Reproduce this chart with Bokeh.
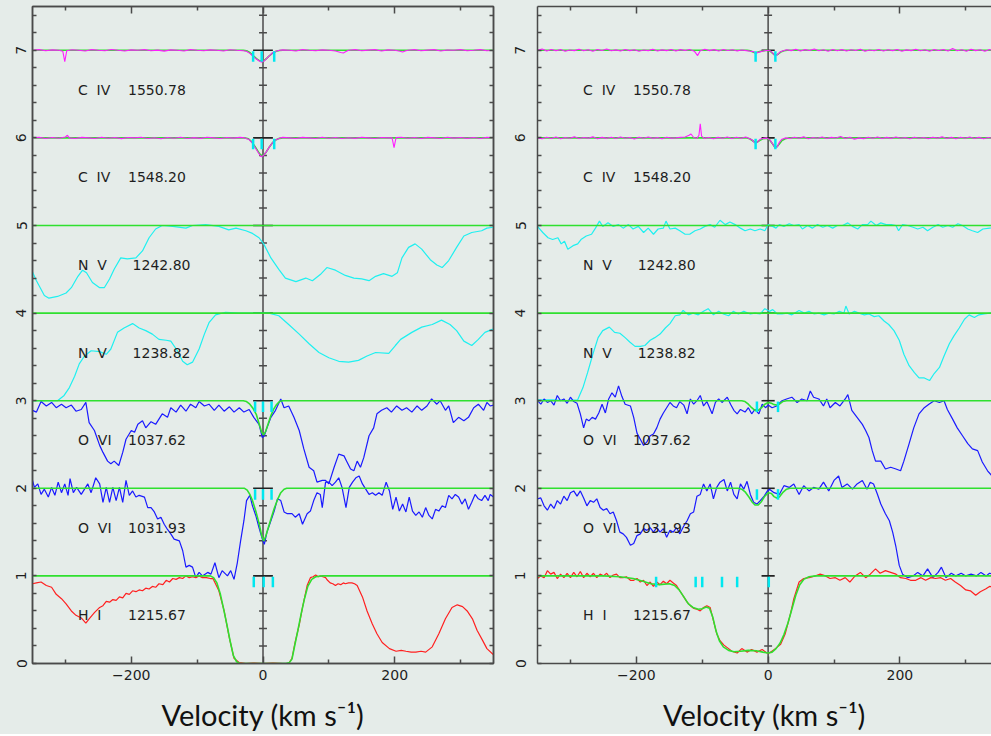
from bokeh.plotting import figure
from bokeh.models import LinearAxis, FixedTicker, Range1d
from bokeh.layouts import row
from bokeh.embed import file_html
from bokeh.resources import INLINE
from bokeh.core.properties import value

# ---------------- DATA (velocity km/s, normalised flux) ----------------
LEVELS = {"HI": 1, "OVI1031": 2, "OVI1037": 3, "NV1238": 4, "NV1242": 5, "CIV1548": 6, "CIV1550": 7}
ION_NAMES = {"HI": "H\u00a0\u00a0I", "OVI1031": "O\u00a0\u00a0VI", "OVI1037": "O\u00a0\u00a0VI",
             "NV1238": "N\u00a0\u00a0V", "NV1242": "N\u00a0\u00a0V", "CIV1548": "C\u00a0\u00a0IV",
             "CIV1550": "C\u00a0\u00a0IV"}
WAVELENGTHS = {"HI": "1215.67", "OVI1031": "1031.93", "OVI1037": "1037.62", "NV1238": "1238.82",
               "NV1242": "1242.80", "CIV1548": "1548.20", "CIV1550": "1550.78"}
X_TICKS = [-200, 0, 200]
X_MINOR = [-300, -100, 100, 300]
X_TICK_LABELS = {-200: "\u2212200", 0: "0", 200: "200"}
Y_TICKS = [0, 1, 2, 3, 4, 5, 6, 7]

# ---- left panel ----
L_CIV1550 = [(-350,1.0),(-340,1.008),(-330,0.995),(-320,1.005),(-310,1.0),(-304,0.99),(-301,0.87),(-298,0.995),(-290,1.006),(-280,1.0),(-270,0.992),(-260,1.008),(-250,1.0),(-240,0.994),(-230,1.009),(-220,1.0),(-210,0.992),(-200,1.005),(-190,1.0),(-180,1.008),(-170,0.994),(-160,1.002),(-150,0.991),(-140,1.005),(-130,1.0),(-120,0.992),(-110,1.008),(-100,1.0),(-90,0.995),(-80,1.005),(-70,1.0),(-60,0.992),(-50,1.006),(-40,1.0),(-30,0.995),(-25,0.99),(-20,0.965),(-15,0.93),(-10,0.9),(-5,0.875),(-2,0.865),(2,0.88),(6,0.91),(10,0.94),(15,0.975),(20,0.99),(25,1.0),(30,1.005),(40,1.0),(50,0.992),(60,1.008),(70,1.0),(80,0.995),(90,1.005),(100,1.0),(110,0.992),(118,0.975),(122,0.97),(126,0.985),(130,1.0),(140,1.008),(150,0.995),(160,1.002),(170,1.008),(180,0.992),(190,1.005),(200,1.0),(208,0.99),(212,0.98),(216,0.992),(220,1.0),(230,1.008),(240,0.995),(250,1.002),(260,1.008),(270,0.992),(280,1.004),(290,1.0),(300,1.008),(310,0.995),(320,1.0),(330,1.008),(340,0.995),(350,1.0)]
L_CIV1548 = [(-350,1.0),(-340,1.006),(-330,0.994),(-320,1.004),(-310,0.996),(-300,1.01),(-297,1.03),(-294,1.0),(-285,0.994),(-275,1.006),(-265,1.0),(-255,0.993),(-245,1.007),(-235,0.996),(-225,1.004),(-215,0.992),(-205,1.005),(-195,1.0),(-185,1.008),(-175,0.994),(-165,1.002),(-155,0.99),(-145,1.004),(-135,0.996),(-125,1.007),(-115,0.993),(-105,1.003),(-95,0.995),(-85,1.007),(-75,1.0),(-65,0.993),(-55,1.005),(-45,0.997),(-35,1.006),(-28,1.0),(-22,0.985),(-17,0.95),(-12,0.89),(-7,0.83),(-3,0.785),(1,0.8),(5,0.84),(10,0.9),(15,0.95),(20,0.98),(25,0.995),(30,1.006),(40,1.0),(50,0.994),(60,1.006),(70,1.0),(80,0.993),(90,1.007),(100,0.996),(110,1.004),(120,0.993),(130,1.002),(140,0.995),(150,1.007),(160,1.0),(170,0.993),(180,1.004),(190,1.0),(196,1.0),(199,0.89),(202,1.003),(210,1.008),(220,0.996),(230,1.004),(240,0.993),(250,1.006),(260,1.0),(270,0.994),(280,1.008),(290,0.997),(300,1.005),(310,0.995),(320,1.004),(330,0.993),(340,1.006),(350,1.0)]
L_NV1242 = [(-350,0.47),(-344,0.37),(-332,0.20),(-325,0.17),(-312,0.19),(-299,0.23),(-291,0.29),(-281,0.42),(-274,0.49),(-268,0.46),(-259,0.35),(-248,0.29),(-241,0.29),(-233,0.39),(-226,0.50),(-216,0.63),(-206,0.62),(-193,0.63),(-183,0.71),(-173,0.86),(-163,0.96),(-153,1.0),(-137,0.99),(-117,0.97),(-107,1.0),(-87,1.01),(-67,0.99),(-52,0.95),(-41,0.97),(-26,0.94),(-16,0.91),(-6,0.86),(1,0.79),(12,0.63),(24,0.50),(34,0.40),(50,0.36),(65,0.40),(75,0.37),(87,0.44),(97,0.52),(110,0.49),(125,0.43),(138,0.40),(150,0.39),(161,0.37),(171,0.42),(183,0.45),(196,0.42),(204,0.46),(211,0.63),(221,0.75),(231,0.79),(241,0.73),(254,0.61),(264,0.55),(272,0.52),(282,0.60),(294,0.75),(305,0.88),(317,0.92),(332,0.94),(340,0.97),(350,0.98)]
L_NV1238 = [(-350,0.0),(-334,0.0),(-312,0.0),(-302,0.06),(-294,0.15),(-286,0.28),(-279,0.42),(-271,0.51),(-261,0.57),(-248,0.56),(-238,0.53),(-231,0.59),(-221,0.78),(-211,0.83),(-198,0.88),(-188,0.83),(-178,0.80),(-168,0.76),(-158,0.70),(-147,0.69),(-140,0.68),(-130,0.57),(-122,0.45),(-115,0.41),(-107,0.44),(-97,0.59),(-89,0.76),(-82,0.89),(-72,0.98),(-57,1.01),(-36,1.0),(9,1.0),(24,0.97),(39,0.87),(55,0.76),(70,0.65),(85,0.55),(100,0.49),(115,0.45),(130,0.44),(145,0.46),(158,0.51),(171,0.55),(191,0.54),(201,0.63),(209,0.70),(226,0.78),(241,0.84),(257,0.87),(271,0.92),(284,0.87),(294,0.80),(305,0.68),(317,0.63),(327,0.70),(337,0.78),(350,0.82)]
L_OVI1037 = [(-350,0.89),(-344,0.87),(-337,0.99),(-329,0.94),(-321,0.98),(-314,0.92),(-306,0.96),(-299,0.92),(-291,0.95),(-284,0.88),(-276,0.90),(-269,0.98),(-264,0.75),(-256,0.66),(-248,0.49),(-243,0.41),(-236,0.31),(-231,0.28),(-226,0.31),(-219,0.26),(-213,0.41),(-208,0.56),(-200,0.66),(-195,0.64),(-190,0.73),(-183,0.77),(-178,0.69),(-170,0.76),(-163,0.73),(-153,0.85),(-145,0.81),(-140,0.92),(-132,0.87),(-125,0.95),(-117,0.88),(-110,0.96),(-102,0.92),(-97,0.99),(-89,0.94),(-82,0.96),(-74,0.89),(-67,0.95),(-59,0.88),(-51,0.93),(-44,0.87),(-36,0.92),(-29,0.87),(-21,0.90),(-14,0.81),(-6,0.73),(-1,0.58),(2,0.60),(6,0.69),(12,0.81),(19,0.89),(27,1.02),(32,0.92),(39,0.94),(47,0.81),(55,0.66),(62,0.45),(70,0.24),(77,0.20),(82,0.07),(90,0.09),(95,0.09),(100,0.05),(108,0.24),(115,0.39),(123,0.37),(127,0.31),(133,0.22),(138,0.20),(143,0.31),(148,0.24),(153,0.35),(161,0.60),(168,0.69),(173,0.85),(180,0.89),(188,0.92),(195,0.87),(203,0.94),(211,0.89),(218,0.92),(226,0.87),(234,0.94),(241,0.89),(249,0.94),(256,1.02),(264,0.96),(269,1.0),(277,0.89),(282,0.94),(289,0.75),(297,0.81),(305,0.77),(312,0.81),(320,0.92),(327,0.96),(335,0.89),(340,0.98),(345,0.94),(350,0.95)]
L_OVI1031 = [(-350,1.09),(-347,1.01),(-342,1.05),(-337,0.93),(-332,0.99),(-326,0.90),(-321,1.01),(-316,0.92),(-311,1.07),(-306,0.95),(-301,1.05),(-296,0.92),(-293,1.11),(-288,0.95),(-283,1.01),(-276,0.93),(-271,0.99),(-266,1.05),(-261,0.95),(-254,1.12),(-248,1.05),(-243,0.84),(-238,1.01),(-233,0.84),(-228,1.01),(-223,0.86),(-218,1.01),(-213,0.84),(-208,1.09),(-203,0.92),(-198,0.97),(-193,0.90),(-188,0.92),(-180,0.90),(-175,0.78),(-170,0.78),(-165,0.73),(-160,0.65),(-155,0.67),(-150,0.59),(-145,0.53),(-140,0.48),(-135,0.42),(-127,0.40),(-122,0.29),(-117,0.10),(-112,0.12),(-107,0.10),(-102,-0.02),(-97,0.04),(-92,0.0),(-84,0.04),(-79,0.02),(-73,0.15),(-67,-0.02),(-62,0.06),(-54,0.0),(-49,0.06),(-44,-0.04),(-39,0.15),(-34,0.40),(-29,0.63),(-25,0.86),(-20,0.92),(-16,0.80),(-11,0.69),(-6,0.55),(-1,0.42),(2,0.36),(6,0.50),(12,0.63),(17,0.74),(22,0.88),(27,0.86),(32,0.73),(37,0.71),(44,0.71),(49,0.67),(55,0.71),(60,0.59),(67,0.71),(72,0.74),(77,0.86),(82,0.95),(87,0.93),(90,0.78),(95,1.07),(100,1.07),(105,1.03),(110,1.07),(115,1.12),(120,1.01),(126,0.78),(131,1.01),(136,1.07),(141,1.12),(146,1.14),(151,1.05),(156,0.99),(161,0.93),(166,0.95),(171,0.92),(176,0.95),(181,0.92),(187,1.07),(192,0.97),(197,0.76),(202,0.90),(207,0.74),(212,0.82),(217,0.73),(222,0.90),(227,0.74),(232,0.69),(237,0.73),(242,0.67),(247,0.78),(252,0.69),(257,0.65),(262,0.76),(267,0.74),(272,0.80),(277,0.78),(282,0.92),(287,0.88),(292,0.93),(297,0.90),(302,0.82),(307,0.88),(312,0.76),(317,0.84),(322,0.93),(327,0.88),(332,0.86),(337,0.92),(342,0.86),(345,0.93),(350,0.90)]
L_HI = [(-350,0.91),(-344,0.92),(-337,0.93),(-329,0.89),(-321,0.87),(-314,0.79),(-306,0.74),(-299,0.68),(-291,0.60),(-284,0.55),(-276,0.52),(-269,0.46),(-264,0.51),(-256,0.58),(-248,0.64),(-243,0.66),(-238,0.71),(-233,0.70),(-228,0.73),(-223,0.72),(-218,0.76),(-213,0.75),(-208,0.80),(-203,0.79),(-198,0.83),(-193,0.82),(-188,0.84),(-183,0.83),(-178,0.86),(-173,0.85),(-168,0.88),(-163,0.87),(-158,0.91),(-152,0.90),(-147,0.95),(-142,0.93),(-137,0.97),(-132,0.96),(-127,0.98),(-122,0.97),(-117,1.0),(-112,0.98),(-107,0.99),(-102,0.98),(-97,1.0),(-92,0.98),(-86,0.98),(-80,0.97),(-76,0.97),(-67,0.83),(-59,0.60),(-51,0.29),(-44,0.06),(-36,0.01),(-26,0.0),(-15,0.005),(0,0.0),(15,0.005),(30,0.0),(39,0.0),(44,0.06),(49,0.25),(55,0.44),(60,0.64),(67,0.89),(72,0.98),(76,0.99),(80,1.01),(84,0.99),(87,1.0),(91,0.99),(95,0.98),(98,0.95),(102,0.92),(106,0.91),(110,0.89),(114,0.91),(118,0.90),(122,0.92),(125,0.91),(130,0.92),(135,0.92),(139,0.91),(143,0.89),(151,0.76),(158,0.60),(166,0.45),(173,0.34),(181,0.24),(192,0.17),(202,0.14),(210,0.15),(217,0.14),(225,0.13),(232,0.13),(240,0.14),(247,0.13),(257,0.19),(267,0.34),(277,0.51),(287,0.64),(295,0.67),(303,0.65),(310,0.60),(318,0.51),(325,0.38),(333,0.27),(340,0.17),(350,0.10)]

L_MODELS = {
    "CIV1550": [(-350,1),(-30,1),(-25,0.995),(-20,0.975),(-15,0.94),(-10,0.905),(-5,0.88),(-2,0.875),(2,0.885),(6,0.91),(10,0.94),(15,0.97),(20,0.99),(25,0.998),(30,1),(350,1)],
    "CIV1548": [(-350,1),(-28,1),(-22,0.99),(-17,0.955),(-12,0.9),(-7,0.84),(-3,0.8),(1,0.805),(5,0.84),(10,0.9),(15,0.95),(20,0.98),(25,0.995),(30,1),(350,1)],
    "NV1242": [(-350,1),(350,1)],
    "NV1238": [(-350,1),(350,1)],
    "OVI1037": [(-350,1),(-30,1),(-25,0.99),(-20,0.96),(-15,0.91),(-10,0.84),(-6,0.74),(-2,0.64),(1,0.61),(4,0.65),(8,0.74),(12,0.83),(16,0.9),(20,0.95),(25,0.99),(30,1),(350,1)],
    "OVI1031": [(-350,1),(-28,1),(-24,0.98),(-20,0.93),(-16,0.86),(-11,0.74),(-6,0.6),(-2,0.46),(1,0.4),(4,0.45),(8,0.55),(12,0.65),(17,0.77),(22,0.87),(27,0.95),(32,0.99),(36,1),(350,1)],
    "HI": [(-350,1),(-80,1),(-75,0.98),(-70,0.92),(-65,0.8),(-60,0.63),(-55,0.45),(-50,0.26),(-45,0.09),(-40,0.02),(-35,0.0),(35,0.0),(40,0.01),(44,0.05),(48,0.2),(53,0.38),(58,0.57),(63,0.74),(68,0.88),(74,0.96),(80,0.99),(90,1),(350,1)],
}
L_COMPONENTS = {"HI": [-14, 1, 15], "OVI1031": [-12, 0, 13], "OVI1037": [-12, 0, 13],
                "CIV1548": [-15, -2, 17], "CIV1550": [-15, -2, 17]}

# ---- right panel ----
R_CIV1550 = [(-350,1.0),(-343,1.015),(-336,0.992),(-329,1.01),(-322,0.995),(-315,1.008),(-308,0.99),(-301,1.004),(-294,0.996),(-287,1.012),(-280,0.994),(-273,1.006),(-266,0.99),(-259,1.008),(-252,0.997),(-245,1.015),(-238,0.995),(-231,1.005),(-224,0.992),(-217,1.01),(-210,0.996),(-203,1.006),(-196,0.99),(-189,1.003),(-182,0.996),(-175,1.012),(-168,0.993),(-161,1.005),(-154,0.996),(-147,1.01),(-140,0.992),(-133,1.008),(-126,0.997),(-119,1.01),(-112,0.99),(-107,0.94),(-103,0.995),(-96,1.012),(-89,0.996),(-82,1.008),(-75,0.993),(-68,1.01),(-61,0.997),(-54,1.006),(-47,0.993),(-40,1.004),(-33,0.996),(-27,0.99),(-22,0.985),(-19,0.965),(-16,0.975),(-11,0.985),(-6,0.995),(0,1.0),(4,0.99),(8,0.96),(11,0.935),(14,0.95),(18,0.98),(23,0.995),(28,1.006),(35,0.996),(42,1.012),(49,0.993),(56,1.008),(63,0.997),(70,1.015),(77,0.994),(84,1.006),(91,0.99),(98,1.01),(105,0.995),(112,1.008),(119,0.992),(126,1.006),(133,0.997),(140,1.012),(147,0.99),(154,1.004),(161,0.995),(168,1.01),(175,0.993),(182,1.007),(189,0.996),(196,1.01),(203,0.99),(210,1.005),(217,0.996),(224,1.012),(231,0.994),(238,1.006),(245,0.99),(252,1.008),(259,0.997),(266,1.01),(273,0.993),(280,1.02),(287,0.994),(294,1.006),(301,0.99),(308,1.012),(315,0.996),(322,1.006),(329,0.99),(336,1.008),(343,0.995),(350,1.0)]
R_CIV1548 = [(-350,1.0),(-343,0.99),(-336,1.008),(-329,0.994),(-322,1.01),(-315,0.99),(-308,1.004),(-301,0.996),(-294,1.012),(-287,0.993),(-280,1.005),(-273,0.997),(-266,1.012),(-259,0.99),(-252,1.006),(-245,0.995),(-238,1.008),(-231,0.993),(-224,1.01),(-217,0.996),(-210,1.004),(-203,0.988),(-196,1.008),(-189,0.996),(-182,1.01),(-175,0.995),(-168,1.005),(-161,0.99),(-154,1.008),(-147,0.997),(-140,1.0),(-133,1.006),(-126,1.01),(-120,1.03),(-117,1.045),(-113,1.005),(-108,0.995),(-105,1.03),(-103,1.16),(-101,1.02),(-97,0.995),(-90,1.004),(-83,0.99),(-76,1.006),(-69,0.996),(-62,1.01),(-55,0.993),(-48,1.008),(-41,0.996),(-34,1.01),(-28,0.99),(-24,0.975),(-21,0.95),(-19,0.935),(-16,0.955),(-12,0.985),(-7,0.995),(-2,1.0),(3,0.975),(7,0.93),(11,0.885),(14,0.9),(17,0.95),(21,0.985),(26,1.0),(33,0.993),(40,1.008),(47,0.996),(54,1.012),(61,0.99),(68,1.005),(75,0.996),(82,1.01),(89,0.993),(96,1.006),(103,0.998),(110,1.015),(117,0.994),(124,1.008),(131,0.985),(138,1.0),(145,0.992),(152,1.008),(159,0.996),(166,1.01),(173,0.993),(180,1.006),(187,0.995),(194,1.01),(201,0.996),(208,1.005),(215,0.99),(222,1.008),(229,0.996),(236,1.004),(243,0.992),(250,1.008),(257,0.997),(264,1.012),(271,0.994),(278,1.006),(285,0.99),(292,1.008),(299,0.996),(306,1.01),(313,0.993),(320,1.006),(327,0.99),(334,1.005),(341,0.996),(350,1.0)]
R_NV1242 = [(-350,0.99),(-342,0.92),(-334,0.86),(-327,0.84),(-319,0.86),(-314,0.79),(-309,0.82),(-304,0.73),(-296,0.77),(-289,0.79),(-284,0.84),(-276,0.88),(-268,0.90),(-262,0.97),(-256,1.05),(-251,0.99),(-243,1.03),(-235,0.99),(-227,1.01),(-220,0.97),(-212,1.01),(-205,0.96),(-197,0.99),(-189,0.92),(-182,0.97),(-174,0.90),(-167,0.96),(-159,0.97),(-155,1.05),(-149,0.96),(-141,0.97),(-134,0.94),(-126,0.90),(-119,0.90),(-111,0.94),(-103,0.96),(-96,0.99),(-88,1.01),(-81,0.98),(-73,1.06),(-65,1.01),(-58,1.04),(-50,1.01),(-42,0.97),(-35,0.94),(-27,0.96),(-20,0.94),(-12,0.96),(-5,0.94),(0,1.01),(7,0.99),(12,0.97),(17,1.01),(24,0.99),(32,1.02),(39,1.0),(47,1.01),(52,0.96),(60,1.0),(67,0.97),(75,1.01),(83,0.98),(90,1.0),(98,0.97),(105,1.0),(113,1.0),(121,1.03),(128,0.99),(136,0.96),(143,1.01),(151,1.01),(156,1.05),(164,1.0),(171,1.03),(179,1.01),(187,1.01),(194,1.0),(198,0.94),(204,1.01),(212,1.0),(220,0.98),(227,0.96),(235,0.98),(242,0.94),(250,0.98),(258,1.01),(265,0.98),(273,1.0),(280,0.98),(288,1.02),(295,1.0),(303,0.96),(310,0.94),(318,0.92),(326,0.96),(336,0.97),(350,0.98)]
R_NV1238 = [(-350,0.01),(-327,0.01),(-307,0.0),(-289,0.01),(-281,0.15),(-274,0.32),(-266,0.53),(-258,0.72),(-251,0.80),(-241,0.84),(-233,0.78),(-225,0.77),(-217,0.72),(-210,0.67),(-202,0.62),(-194,0.62),(-187,0.63),(-179,0.69),(-172,0.72),(-164,0.76),(-156,0.83),(-149,0.88),(-141,0.97),(-134,0.98),(-129,1.03),(-121,0.98),(-114,1.0),(-106,0.98),(-98,1.02),(-91,1.05),(-83,0.98),(-75,1.02),(-68,0.99),(-60,0.97),(-53,1.02),(-45,0.99),(-37,1.02),(-27,0.99),(-20,1.0),(-12,0.99),(-5,1.05),(2,1.02),(7,1.04),(14,0.99),(21,0.99),(29,1.0),(36,0.98),(47,1.03),(55,1.0),(62,1.02),(70,0.99),(77,1.0),(85,0.98),(92,1.0),(100,0.99),(108,1.02),(115,1.0),(118,1.08),(123,0.99),(131,1.02),(138,1.0),(146,0.98),(153,0.99),(161,0.96),(168,0.97),(176,0.91),(183,0.87),(191,0.80),(199,0.69),(206,0.53),(214,0.40),(222,0.32),(229,0.26),(237,0.26),(245,0.23),(252,0.31),(260,0.38),(267,0.51),(275,0.65),(282,0.74),(290,0.83),(298,0.93),(305,0.98),(313,0.95),(320,0.98),(328,0.99),(336,1.0),(350,1.0)]
R_OVI1037 = [(-350,1.0),(-345,0.96),(-340,1.02),(-335,0.98),(-330,1.0),(-325,0.95),(-320,1.06),(-315,1.0),(-310,1.02),(-305,0.97),(-300,1.04),(-295,0.99),(-290,0.97),(-285,0.85),(-280,0.69),(-276,0.79),(-272,0.77),(-267,0.81),(-262,0.79),(-257,0.86),(-252,0.96),(-247,0.86),(-242,1.02),(-237,1.09),(-232,1.04),(-227,1.17),(-222,1.05),(-217,0.96),(-209,0.94),(-204,0.81),(-199,0.63),(-194,0.56),(-189,0.49),(-184,0.53),(-179,0.60),(-174,0.62),(-169,0.69),(-164,0.79),(-159,0.86),(-154,0.92),(-149,0.98),(-144,0.94),(-139,0.92),(-134,0.99),(-128,0.95),(-123,0.85),(-118,1.02),(-113,0.96),(-108,1.0),(-103,1.06),(-98,0.94),(-93,0.99),(-85,0.85),(-80,0.98),(-75,1.02),(-70,0.98),(-62,1.04),(-57,0.96),(-52,0.89),(-47,0.85),(-42,0.90),(-35,0.87),(-30,0.92),(-25,0.85),(-20,0.90),(-14,0.85),(-9,0.96),(-4,0.92),(0,0.95),(6,0.92),(13,0.94),(21,1.0),(28,1.02),(36,1.04),(44,0.98),(51,1.02),(59,1.0),(64,1.11),(69,1.04),(77,1.02),(84,0.94),(89,1.02),(94,0.92),(102,0.98),(109,0.94),(117,1.02),(121,1.07),(127,0.89),(135,0.81),(143,0.73),(148,0.66),(153,0.58),(158,0.43),(163,0.31),(171,0.31),(178,0.22),(186,0.24),(194,0.22),(201,0.20),(206,0.31),(214,0.51),(221,0.69),(229,0.85),(237,0.92),(244,0.96),(252,1.0),(260,0.98),(267,1.0),(272,0.90),(280,0.79),(287,0.69),(295,0.60),(303,0.51),(310,0.45),(318,0.43),(325,0.30),(333,0.20),(340,0.14),(350,0.08)]
R_OVI1031 = [(-350,0.88),(-345,0.89),(-340,0.80),(-335,0.75),(-330,0.82),(-325,0.77),(-320,0.86),(-315,0.82),(-310,0.91),(-305,0.86),(-300,0.95),(-295,0.97),(-290,0.91),(-285,0.97),(-280,0.89),(-275,0.80),(-270,0.86),(-265,0.84),(-260,0.88),(-255,0.78),(-250,0.75),(-245,0.77),(-240,0.71),(-235,0.73),(-230,0.63),(-225,0.50),(-220,0.48),(-215,0.44),(-209,0.35),(-204,0.37),(-199,0.46),(-194,0.48),(-189,0.54),(-184,0.52),(-179,0.55),(-174,0.50),(-169,0.55),(-164,0.50),(-159,0.54),(-154,0.44),(-149,0.52),(-144,0.50),(-139,0.55),(-134,0.48),(-128,0.57),(-123,0.63),(-118,0.71),(-113,0.73),(-108,0.91),(-103,0.93),(-98,1.05),(-93,0.97),(-88,1.05),(-83,0.88),(-78,1.01),(-73,1.07),(-67,1.10),(-62,0.97),(-57,1.07),(-52,0.93),(-47,0.88),(-42,1.05),(-37,0.99),(-32,1.08),(-27,0.93),(-22,0.84),(-17,0.82),(-12,0.86),(-6,0.91),(-1,0.97),(2,0.99),(9,0.95),(17,0.93),(24,1.03),(32,1.01),(39,1.05),(47,0.93),(54,1.03),(62,0.97),(69,1.01),(77,0.99),(84,1.07),(92,0.97),(100,1.09),(107,1.14),(112,1.01),(120,1.05),(128,0.99),(135,1.05),(143,1.09),(150,0.99),(155,1.07),(160,1.05),(166,0.93),(171,0.82),(178,0.71),(184,0.63),(189,0.50),(194,0.33),(199,0.12),(204,0.02),(212,-0.02),(220,0.0),(227,0.04),(235,0.0),(242,0.08),(250,-0.02),(258,0.04),(263,0.10),(270,-0.02),(278,0.03),(285,0.0),(293,0.03),(300,0.0),(308,0.02),(316,0.0),(323,0.04),(331,0.0),(336,0.03),(350,0.0)]
R_HI = [(-350,0.97),(-345,1.0),(-340,0.98),(-335,1.06),(-330,1.02),(-325,1.04),(-320,0.97),(-315,1.02),(-310,0.98),(-305,1.03),(-300,0.98),(-295,1.04),(-290,0.99),(-285,1.05),(-280,0.98),(-275,1.03),(-270,0.99),(-265,1.03),(-260,0.98),(-255,1.02),(-250,1.0),(-245,1.03),(-240,0.98),(-235,1.01),(-230,1.02),(-225,0.98),(-220,0.98),(-215,0.99),(-209,0.95),(-204,0.95),(-199,0.97),(-194,0.93),(-189,0.95),(-184,0.89),(-179,0.93),(-174,0.88),(-169,0.93),(-164,0.90),(-159,0.94),(-154,0.91),(-149,0.95),(-144,0.92),(-139,0.89),(-134,0.83),(-128,0.76),(-123,0.70),(-118,0.66),(-113,0.63),(-108,0.62),(-103,0.60),(-98,0.64),(-93,0.66),(-88,0.64),(-83,0.49),(-78,0.34),(-73,0.26),(-67,0.21),(-60,0.17),(-55,0.14),(-47,0.12),(-40,0.17),(-32,0.13),(-25,0.16),(-17,0.13),(-9,0.16),(-2,0.12),(2,0.12),(11,0.17),(19,0.22),(26,0.34),(34,0.57),(39,0.74),(47,0.93),(54,0.97),(62,0.98),(72,1.0),(79,1.02),(87,1.0),(94,0.97),(102,0.98),(109,0.95),(117,0.98),(124,0.93),(132,1.0),(140,1.04),(148,0.98),(155,1.02),(163,1.08),(170,1.03),(178,1.06),(186,1.04),(194,1.02),(201,0.98),(209,0.97),(216,0.95),(224,0.95),(232,0.98),(239,0.95),(247,0.98),(254,0.97),(262,0.98),(269,0.95),(277,0.97),(284,0.93),(292,0.89),(300,0.84),(307,0.83),(315,0.78),(322,0.82),(330,0.85),(336,0.88),(350,0.86)]

R_MODELS = {
    "CIV1550": [(-350,1),(-32,1),(-27,0.995),(-23,0.98),(-19,0.97),(-15,0.98),(-11,0.99),(-6,0.995),(-2,1.0),(3,0.99),(7,0.965),(11,0.94),(15,0.955),(19,0.98),(24,0.995),(29,1),(350,1)],
    "CIV1548": [(-350,1),(-32,1),(-28,0.99),(-24,0.97),(-20,0.95),(-17,0.95),(-13,0.97),(-8,0.99),(-3,0.995),(2,0.98),(6,0.94),(10,0.895),(13,0.895),(17,0.93),(21,0.97),(26,0.99),(31,1),(350,1)],
    "NV1242": [(-350,1),(350,1)],
    "NV1238": [(-350,1),(350,1)],
    "OVI1037": [(-350,1),(-40,1),(-35,0.99),(-30,0.96),(-25,0.92),(-20,0.89),(-15,0.89),(-10,0.92),(-5,0.96),(0,0.98),(5,0.97),(9,0.955),(13,0.95),(17,0.96),(22,0.99),(28,1),(350,1)],
    "OVI1031": [(-350,1),(-45,1),(-40,0.99),(-35,0.96),(-30,0.91),(-25,0.85),(-20,0.81),(-15,0.81),(-10,0.85),(-5,0.91),(0,0.95),(5,0.94),(9,0.905),(13,0.89),(17,0.9),(22,0.95),(28,0.99),(33,1),(350,1)],
    "HI": [(-350,1),(-250,1),(-225,0.99),(-205,0.97),(-190,0.94),(-178,0.91),(-165,0.9),(-150,0.91),(-142,0.89),(-135,0.84),(-128,0.76),(-121,0.68),(-114,0.64),(-106,0.62),(-100,0.625),(-94,0.645),(-89,0.63),(-84,0.53),(-79,0.37),(-74,0.26),(-68,0.19),(-60,0.15),(-52,0.135),(-42,0.14),(-30,0.15),(-18,0.145),(-8,0.13),(0,0.12),(6,0.13),(12,0.17),(18,0.23),(24,0.33),(30,0.46),(36,0.62),(42,0.78),(48,0.9),(54,0.96),(62,0.99),(72,1),(350,1)],
}
R_COMPONENTS = {"HI": [-170, -110, -100, -70, -47, 1], "OVI1031": [-17, 15], "OVI1037": [-17, 15],
                "CIV1548": [-19, 11], "CIV1550": [-19, 11]}

L_SPECTRA = {"CIV1550": L_CIV1550, "CIV1548": L_CIV1548, "NV1242": L_NV1242, "NV1238": L_NV1238,
             "OVI1037": L_OVI1037, "OVI1031": L_OVI1031, "HI": L_HI}
R_SPECTRA = {"CIV1550": R_CIV1550, "CIV1548": R_CIV1548, "NV1242": R_NV1242, "NV1238": R_NV1238,
             "OVI1037": R_OVI1037, "OVI1031": R_OVI1031, "HI": R_HI}

# ---------------- STYLE ----------------
BG = "#e5ece9"
FRAME = "#4a4a4a"
GREEN = "#2fe02f"
TEXT = "#1e1e1e"
COLORS = {"CIV1550": "#ff1cff", "CIV1548": "#ff1cff", "NV1242": "#1ef0f0", "NV1238": "#1ef0f0",
          "OVI1037": "#1a1aff", "OVI1031": "#1a1aff", "HI": "#ff2020"}
ON_TOP = ("CIV1550", "CIV1548")   # data drawn over the model
FONT = "DejaVu Sans"
Y_MINOR = [round(0.2 * k, 1) for k in range(1, 38) if k % 5]
FRAME_H = 657


def style_axis(ax, major_in, minor_in):
    ax.major_tick_in = major_in
    ax.major_tick_out = 0
    ax.minor_tick_in = minor_in
    ax.minor_tick_out = 0
    for a in ("axis_line", "major_tick_line", "minor_tick_line"):
        setattr(ax, a + "_color", FRAME)
        setattr(ax, a + "_width", 1.5)
    ax.major_label_text_font = FONT
    ax.major_label_text_font_size = "14px"
    ax.major_label_text_color = TEXT


def hide_labels(ax):
    ax.major_label_text_font_size = "1px"
    ax.major_label_text_color = None
    ax.major_label_standoff = 0


def draw_line(p, key, data, color, width):
    off = LEVELS[key] - 1
    p.line([v for v, f in data], [f + off for v, f in data], line_color=color, line_width=width)


def make_panel(spectra, models, comps, x_end, frame_w, left_border, right_border, label_standoff,
               with_right_axis, cont_half):
    p = figure(x_range=Range1d(-350, x_end), y_range=Range1d(0, 7.5),
               frame_width=frame_w, frame_height=FRAME_H,
               output_backend="svg", toolbar_location=None,
               x_axis_type=None, y_axis_type=None,
               background_fill_color=BG, border_fill_color=BG,
               min_border_left=left_border, min_border_right=right_border,
               min_border_top=6, min_border_bottom=71,
               outline_line_color=FRAME if with_right_axis else None,
               outline_line_width=1.5)

    xt = FixedTicker(ticks=X_TICKS, minor_ticks=X_MINOR)
    yt = FixedTicker(ticks=Y_TICKS, minor_ticks=Y_MINOR)
    bottom = LinearAxis(ticker=xt)
    style_axis(bottom, 7, 4)
    bottom.major_label_overrides = X_TICK_LABELS
    bottom.major_label_standoff = 6
    bottom.axis_label = "Velocity (km s\u207b\u00b9)"
    bottom.axis_label_text_font = "Lato"
    bottom.axis_label_text_font_size = "29px"
    bottom.axis_label_text_font_style = "normal"
    bottom.axis_label_text_color = "#111111"
    bottom.axis_label_standoff = 14
    p.add_layout(bottom, "below")

    top = LinearAxis(ticker=xt)
    style_axis(top, 7, 4)
    hide_labels(top)
    p.add_layout(top, "above")

    left = LinearAxis(ticker=yt)
    style_axis(left, 4, 4)
    left.major_label_orientation = "vertical"
    left.major_label_standoff = label_standoff
    p.add_layout(left, "left")

    if with_right_axis:
        right = LinearAxis(ticker=yt)
        style_axis(right, 4, 4)
        hide_labels(right)
        p.add_layout(right, "right")

    # central velocity-zero axis with ticks
    p.segment(x0=[0], y0=[0], x1=[0], y1=[7.5], line_color=FRAME, line_width=1.5)
    p.segment(x0=[-6] * len(Y_MINOR), y0=Y_MINOR, x1=[6] * len(Y_MINOR), y1=Y_MINOR,
              line_color=FRAME, line_width=1.5)
    lv = Y_TICKS[1:]
    p.segment(x0=[-cont_half] * len(lv), y0=lv, x1=[cont_half] * len(lv), y1=lv,
              line_color="#222222", line_width=1.6)

    for key, data in spectra.items():
        if key not in ON_TOP:
            draw_line(p, key, data, COLORS[key], 1.2)
    for key, data in models.items():
        draw_line(p, key, data, GREEN, 1.6)
    for key in ON_TOP:
        draw_line(p, key, spectra[key], COLORS[key], 1.1)

    for key, vs in comps.items():
        L = LEVELS[key]
        p.segment(x0=vs, y0=[L - 0.01] * len(vs), x1=vs, y1=[L - 0.13] * len(vs),
                  line_color="#00e8f0", line_width=2.5)

    keys = list(LEVELS.keys())
    ys = [LEVELS[k] - 0.45 for k in keys]
    p.text(x=[-281] * len(keys), y=ys, text=[ION_NAMES[k] for k in keys],
           text_font=value(FONT), text_font_size="14px", text_color=TEXT,
           text_baseline="middle", text_align="left")
    p.text(x=[-198 if k.startswith("NV") else -205 for k in keys], y=ys,
           text=[WAVELENGTHS[k] for k in keys],
           text_font=value(FONT), text_font_size="14px", text_color=TEXT,
           text_baseline="middle", text_align="left")
    return p


p1 = make_panel(L_SPECTRA, L_MODELS, L_COMPONENTS, 350, 461, 32, 4, 6, True, 15)
p2 = make_panel(R_SPECTRA, R_MODELS, R_COMPONENTS, 339, 454, 40, 0, 12, False, 10)

layout = row(p1, p2, styles={"background-color": BG})
open("out.html", "w").write(file_html(layout, INLINE))
